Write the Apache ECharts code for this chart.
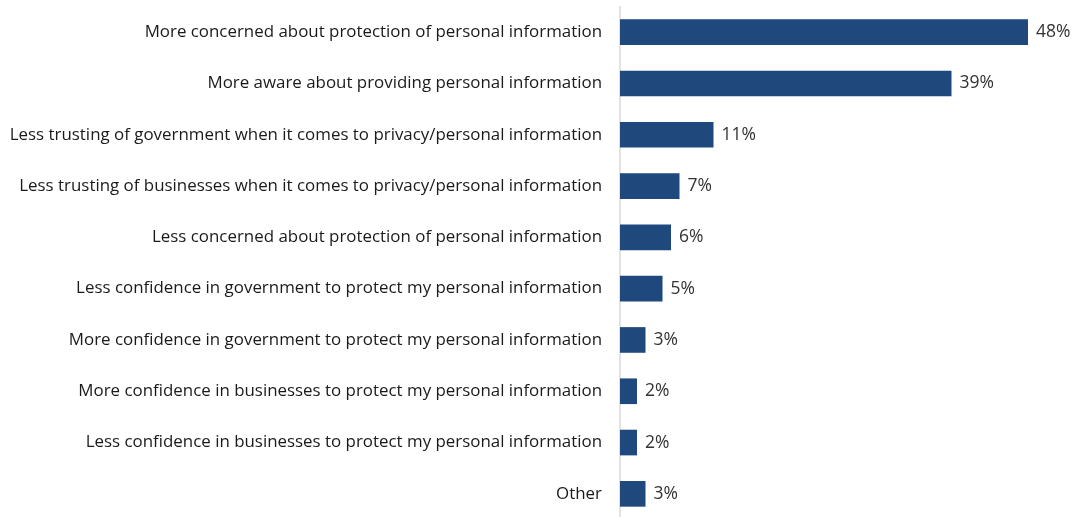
<!DOCTYPE html>
<html>
<head>
<meta charset="utf-8">
<script src="https://cdn.jsdelivr.net/npm/echarts@6/dist/echarts.min.js"></script>
<style>html,body{margin:0;padding:0;background:#fff;overflow:hidden;}#c{width:1078px;height:522px;}</style>
</head>
<body>
<div id="c"></div>
<script>
const categories = [
  "More concerned about protection of personal information",
  "More aware about providing personal information",
  "Less trusting of government when it comes to privacy/personal information",
  "Less trusting of businesses when it comes to privacy/personal information",
  "Less concerned about protection of personal information",
  "Less confidence in government to protect my personal information",
  "More confidence in government to protect my personal information",
  "More confidence in businesses to protect my personal information",
  "Less confidence in businesses to protect my personal information",
  "Other"
];
const values = [48, 39, 11, 7, 6, 5, 3, 2, 2, 3];

const chart = echarts.init(document.getElementById('c'));
chart.setOption({
  animation: false,
  grid: { left: 620, width: 425, top: 6.5, height: 513, containLabel: false },
  xAxis: { type: 'value', min: 0, max: 50, show: false },
  yAxis: {
    type: 'category', inverse: true, data: categories,
    axisLine: { show: true, lineStyle: { color: '#D9D9D9', width: 1.5 } },
    axisTick: { show: false },
    axisLabel: { color: '#1a1a1a', fontSize: 16.9, fontFamily: 'Open Sans', margin: 18 }
  },
  series: [{
    type: 'bar', data: values, barCategoryGap: '50%',
    itemStyle: { color: '#1F497D' },
    label: { show: true, position: 'right', distance: 8, formatter: '{c}%', color: '#333', fontSize: 17.5, fontFamily: 'Open Sans' }
  }]
});
</script>
</body>
</html>
